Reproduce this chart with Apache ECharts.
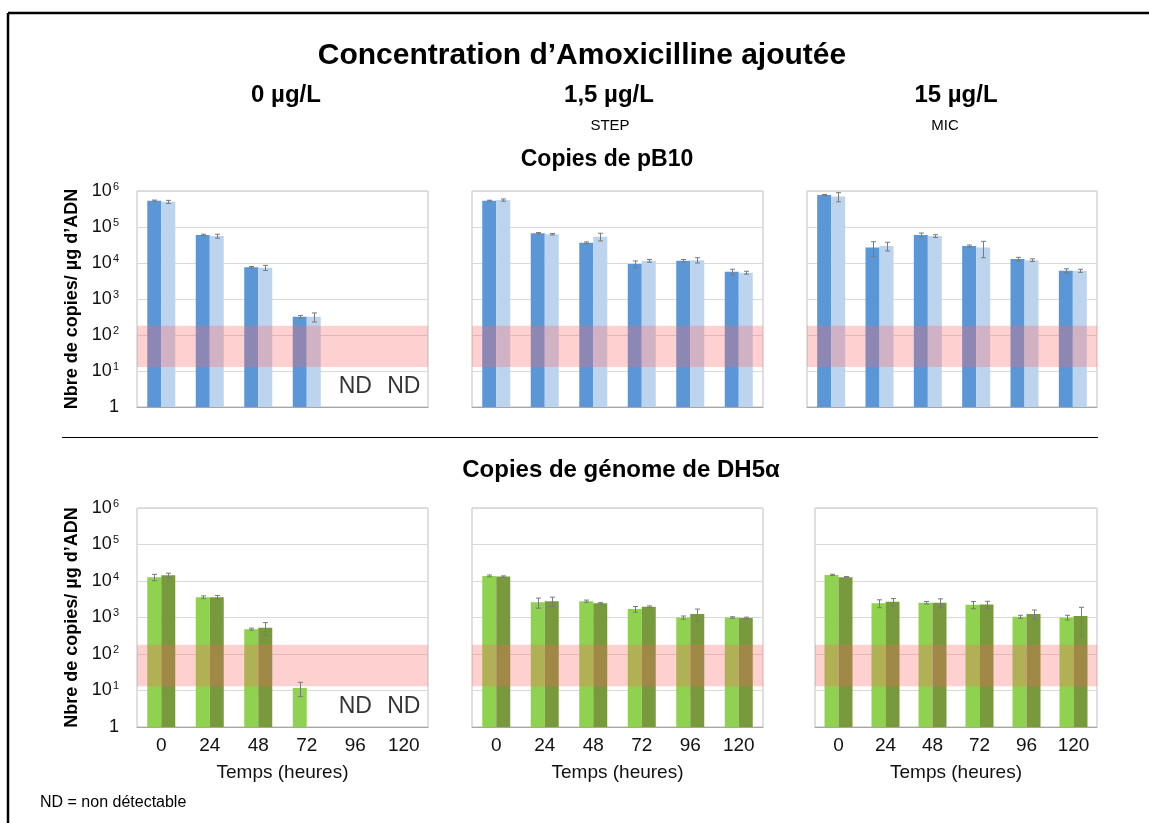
<!DOCTYPE html>
<html>
<head>
    <meta charset="utf-8">
    <script src="https://cdn.jsdelivr.net/npm/echarts@6/dist/echarts.min.js"></script>
    <style type="text/css">
        html, body { margin: 0; padding: 0; background: #fff; }
        #main { width: 1149px; height: 823px; }
    </style>
</head>
<body>
    <div id="main"></div>
    <script>
        // categories (heures)
        var hours = ['0', '24', '48', '72', '96', '120'];

        // Copies de pB10 (bleu fonce / bleu clair), par dose
        var pb10Dose0Dark = [540000, 60000, 7600, 320, null, null];
        var pb10Dose0Light = [500000, 56000, 7400, 320, null, null];
        var pb10Dose0DarkErr = [20000, 3000, 400, 30, null, null];
        var pb10Dose0LightErr = [50000, 7000, 1200, 90, null, null];

        var pb10Dose15Dark = [540000, 67000, 36500, 9400, 11500, 5700];
        var pb10Dose15Light = [560000, 63000, 54000, 11500, 12000, 5400];
        var pb10Dose15DarkErr = [15000, 3000, 2000, 2000, 1000, 1000];
        var pb10Dose15LightErr = [40000, 3000, 13000, 1000, 2000, 500];

        var pb10Dose150Dark = [770000, 27000, 60000, 29600, 12900, 6100];
        var pb10Dose150Light = [700000, 29600, 56000, 27000, 12000, 6100];
        var pb10Dose150DarkErr = [30000, 12000, 8000, 2000, 1500, 800];
        var pb10Dose150LightErr = [200000, 8000, 5000, 13000, 1000, 600];

        // Copies de genome de DH5alpha (vert clair / vert fonce), par dose
        var dh5Dose0Light = [12700, 3600, 480, 11.8, null, null];
        var dh5Dose0Dark = [14400, 3600, 525, null, null, null];
        var dh5Dose0LightErr = [2500, 300, 30, 5, null, null];
        var dh5Dose0DarkErr = [2000, 400, 200, null, null, null];

        var dh5Dose15Light = [13800, 2600, 2800, 1700, 1000, 1000];
        var dh5Dose15Dark = [13200, 2800, 2450, 1980, 1250, 970];
        var dh5Dose15LightErr = [800, 800, 200, 300, 100, 50];
        var dh5Dose15DarkErr = [600, 800, 100, 100, 450, 50];

        var dh5Dose150Light = [14700, 2450, 2550, 2240, 1050, 1000];
        var dh5Dose150Dark = [12700, 2700, 2550, 2280, 1250, 1100];
        var dh5Dose150LightErr = [600, 600, 200, 500, 100, 150];
        var dh5Dose150DarkErr = [600, 600, 700, 500, 350, 800];

        // zone de quantification (bande rose)
        var bandLow = 13;
        var bandHigh = 180;
        // non detectable
        var ndTop = ['96', '120'];
        var ndBottom = ['96', '120'];
        var ndLevel = 3.6;

        var colDarkBlue = '#5b97d6';
        var colLightBlue = '#bdd4ee';
        var colLightGreen = '#8fd24f';
        var colDarkGreen = '#789a3c';

        var myChart = echarts.init(document.getElementById('main'));

        var grids = [
            { left: 137, top: 191, width: 291, height: 216 },
            { left: 472, top: 191, width: 291, height: 216 },
            { left: 807, top: 191, width: 290, height: 216 },
            { left: 137, top: 508, width: 291, height: 219 },
            { left: 472, top: 508, width: 291, height: 219 },
            { left: 815, top: 508, width: 282, height: 219 }
        ];

        var panels = [
            { a: pb10Dose0Dark, b: pb10Dose0Light, ea: pb10Dose0DarkErr, eb: pb10Dose0LightErr, ca: colDarkBlue, cb: colLightBlue, nd: ndTop },
            { a: pb10Dose15Dark, b: pb10Dose15Light, ea: pb10Dose15DarkErr, eb: pb10Dose15LightErr, ca: colDarkBlue, cb: colLightBlue },
            { a: pb10Dose150Dark, b: pb10Dose150Light, ea: pb10Dose150DarkErr, eb: pb10Dose150LightErr, ca: colDarkBlue, cb: colLightBlue },
            { a: dh5Dose0Light, b: dh5Dose0Dark, ea: dh5Dose0LightErr, eb: dh5Dose0DarkErr, ca: colLightGreen, cb: colDarkGreen, nd: ndBottom },
            { a: dh5Dose15Light, b: dh5Dose15Dark, ea: dh5Dose15LightErr, eb: dh5Dose15DarkErr, ca: colLightGreen, cb: colDarkGreen },
            { a: dh5Dose150Light, b: dh5Dose150Dark, ea: dh5Dose150LightErr, eb: dh5Dose150DarkErr, ca: colLightGreen, cb: colDarkGreen }
        ];

        var barW = 14;

        function errData(vals, errs) {
            var out = [];
            for (var i = 0; i < vals.length; i++) {
                if (vals[i] == null || errs[i] == null) continue;
                out.push([i, vals[i] - errs[i], vals[i] + errs[i]]);
            }
            return out;
        }

        // barres d'erreur, decalees sur la barre de gauche / droite
        function errRender(offset) {
            return function (params, api) {
                var hi = api.coord([api.value(0), api.value(2)]);
                var lo = api.coord([api.value(0), api.value(1)]);
                var x = Math.round(hi[0] + offset) + 0.5;
                var st = { stroke: '#7a7a7a', lineWidth: 1 };
                return {
                    type: 'group',
                    children: [
                        { type: 'line', shape: { x1: x, y1: hi[1], x2: x, y2: lo[1] }, style: st },
                        { type: 'line', shape: { x1: x - 2.5, y1: hi[1], x2: x + 2.5, y2: hi[1] }, style: st },
                        { type: 'line', shape: { x1: x - 2.5, y1: lo[1], x2: x + 2.5, y2: lo[1] }, style: st }
                    ]
                };
            };
        }

        function expLabel(v) {
            var e = Math.round(Math.log(v) / Math.LN10);
            if (e === 0) return '{b|1}';
            return '{b|10}{s|' + e + '}';
        }

        var xAxes = [], yAxes = [], series = [];
        panels.forEach(function (p, k) {
            var bottomRow = k >= 3;
            xAxes.push({
                type: 'category',
                gridIndex: k,
                data: hours,
                axisTick: { show: false },
                axisLine: { lineStyle: { color: '#a6a6a6' } },
                axisLabel: {
                    show: bottomRow,
                    color: '#111',
                    fontSize: 19,
                    fontFamily: 'Liberation Sans',
                    margin: 9
                },
                name: bottomRow ? 'Temps (heures)' : '',
                nameLocation: 'middle',
                nameGap: 36,
                nameTextStyle: { color: '#111', fontSize: 19, fontFamily: 'Liberation Sans' }
            });
            yAxes.push({
                type: 'log',
                logBase: 10,
                gridIndex: k,
                min: 1,
                max: 1000000,
                splitNumber: 6,
                axisLine: { show: false },
                axisTick: { show: false },
                splitLine: { lineStyle: { color: '#d9d9d9' } },
                axisLabel: {
                    show: k === 0 || k === 3,
                    margin: 18,
                    formatter: expLabel,
                    rich: {
                        b: { fontSize: 18, color: '#111', fontFamily: 'Liberation Sans', lineHeight: 20 },
                        s: { fontSize: 11, color: '#111', fontFamily: 'Liberation Sans', lineHeight: 20, verticalAlign: 'top', padding: [0, 0, 0, 1] }
                    }
                },
                name: (k === 0 || k === 3) ? 'Nbre de copies/ µg d\u2019ADN' : '',
                nameLocation: 'middle',
                nameRotate: 90,
                nameGap: 56,
                nameTextStyle: { color: '#000', fontSize: 18, fontWeight: 'bold', fontFamily: 'Liberation Sans' }
            });
            series.push({
                type: 'bar',
                xAxisIndex: k,
                yAxisIndex: k,
                data: p.a,
                barWidth: barW,
                barGap: '0%',
                itemStyle: { color: p.ca },
                z: 2
            });
            series.push({
                type: 'bar',
                xAxisIndex: k,
                yAxisIndex: k,
                data: p.b,
                barWidth: barW,
                barGap: '0%',
                itemStyle: { color: p.cb },
                z: 2,
                markArea: {
                    silent: true,
                    z: 6,
                    itemStyle: { color: 'rgba(255,100,100,0.3)' },
                    data: [[{ yAxis: bandLow }, { yAxis: bandHigh }]]
                }
            });
            series.push({
                type: 'custom',
                xAxisIndex: k,
                yAxisIndex: k,
                data: errData(p.a, p.ea),
                renderItem: errRender(-barW / 2),
                z: 8
            });
            series.push({
                type: 'custom',
                xAxisIndex: k,
                yAxisIndex: k,
                data: errData(p.b, p.eb),
                renderItem: errRender(barW / 2),
                z: 8
            });
            if (p.nd) {
                series.push({
                    type: 'scatter',
                    xAxisIndex: k,
                    yAxisIndex: k,
                    symbolSize: 0,
                    data: p.nd.map(function (h) { return [h, ndLevel]; }),
                    label: {
                        show: true,
                        position: 'inside',
                        formatter: 'ND',
                        color: '#000',
                        fontSize: 23,
                        fontFamily: 'Liberation Sans'
                    },
                    z: 9
                });
            }
        });

        function txt(s, x, y, font, align) {
            return {
                type: 'text',
                x: x,
                y: y,
                style: {
                    text: s,
                    font: font,
                    fill: '#000',
                    textAlign: align || 'center',
                    textVerticalAlign: 'middle',
                    align: align || 'center',
                    verticalAlign: 'middle'
                }
            };
        }

        function bf(s) { return 'bold ' + s + 'px "Liberation Sans", Arial, sans-serif'; }

        var option = {
            animation: false,
            grid: grids.map(function (g) {
                return {
                    left: g.left, top: g.top, width: g.width, height: g.height,
                    show: true, borderColor: '#bfbfbf', borderWidth: 1, backgroundColor: 'transparent'
                };
            }),
            xAxis: xAxes,
            yAxis: yAxes,
            series: series,
            graphic: [
                { type: 'line', shape: { x1: 8, y1: 13, x2: 1149, y2: 13 }, style: { stroke: '#000', lineWidth: 2.5 } },
                { type: 'line', shape: { x1: 8, y1: 13, x2: 8, y2: 823 }, style: { stroke: '#000', lineWidth: 2.5 } },
                txt('Concentration d\u2019Amoxicilline ajoutée', 582, 56, bf(30)),
                txt('0 µg/L', 286, 95, bf(24)),
                txt('1,5 µg/L', 609, 95, bf(24)),
                txt('15 µg/L', 956, 95, bf(24)),
                txt('STEP', 610, 126, '15px "Liberation Sans", Arial, sans-serif'),
                txt('MIC', 945, 126, '15px "Liberation Sans", Arial, sans-serif'),
                txt('Copies de pB10', 607, 160, bf(23)),
                { type: 'line', shape: { x1: 62, y1: 437.5, x2: 1098, y2: 437.5 }, style: { stroke: '#000', lineWidth: 1 } },
                txt('Copies de génome de DH5\u03b1', 621, 470, bf(24)),
                txt('ND = non détectable', 40, 803, '16px "Liberation Sans", Arial, sans-serif', 'left')
            ]
        };
        myChart.setOption(option);
    </script>
</body>
</html>
